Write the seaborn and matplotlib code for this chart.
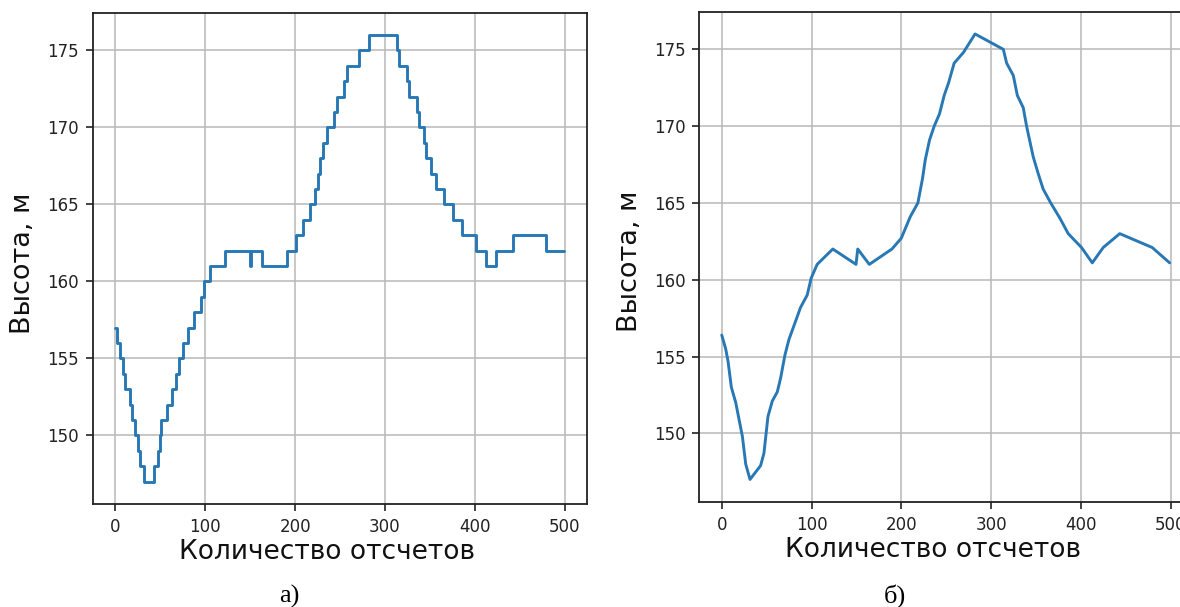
import numpy as np
import pandas as pd
import matplotlib
matplotlib.use("Agg")
import matplotlib.pyplot as plt
import seaborn as sns

# ---- data: panel a) (quantised, step-like profile) ----
steps_x = [0, 2, 5.5, 8, 11, 16, 18.5, 22, 25, 27.7,
           31.4, 42.5, 47.3, 49.2, 51, 57.3, 63, 67.7, 70.3, 75,
           80.6, 87, 95.4, 99, 105, 122, 149.5, 151, 163, 190.5,
           201.5, 209, 216.3, 222, 225.6, 227.4, 231, 236, 243.3, 247,
           254.4, 258, 271, 282, 313.6, 316.2, 324.7, 327.3, 335.8, 338.4,
           343.2, 345.8, 351.3, 356.9, 366.1, 375.3, 385.7, 401.2, 412, 423.5,
           442.6, 479.6, 499]
steps_h = [157, 156, 155, 154, 153, 152, 151, 150, 149, 148,
           147, 148, 149, 150, 151, 152, 153, 154, 155, 156,
           157, 158, 159, 160, 161, 162, 161, 162, 161, 162,
           163, 164, 165, 166, 167, 168, 169, 170, 171, 172,
           173, 174, 175, 176, 175, 174, 173, 172, 171, 170,
           169, 168, 167, 166, 165, 164, 163, 162, 161, 162,
           163, 162, 162]

# ---- data: panel б) (smoothed profile) ----
smooth_x = [0, 4.4, 7, 10.7, 15.6, 19.3, 23, 26.7, 31.5, 43.3,
            47, 51.5, 56.3, 61.9, 65.6, 70.4, 74.8, 80.4, 87.8, 95.2,
            99.6, 106.3, 123.7, 149.6, 151.5, 164.4, 189.6, 200, 210, 218.5,
            223.7, 226.7, 231.5, 236.7, 242.6, 247.8, 252.6, 258.9, 269.3, 282.2,
            313.7, 317.4, 324.8, 329.3, 335.9, 339.6, 347, 352.6, 358.1, 366.5,
            376.8, 386, 400.8, 412.8, 425, 443.4, 479.5, 499]
smooth_h = [156.4, 155.5, 154.7, 153.0, 152.0, 150.9, 149.8, 148.0, 147.0, 147.9,
            148.7, 151.1, 152.1, 152.7, 153.6, 155.1, 156.1, 157.0, 158.2, 159.0,
            160.1, 161.0, 162.0, 161.0, 162.0, 161.0, 162.0, 162.7, 164.1, 165.0,
            166.6, 167.8, 169.1, 170.0, 170.8, 172.0, 172.8, 174.1, 174.8, 176.0,
            175.0, 174.1, 173.3, 172.0, 171.2, 170.0, 168.0, 166.9, 165.9, 165.0,
            164.0, 163.0, 162.1, 161.1, 162.1, 163.0, 162.1, 161.1]

x_ticks = [0, 100, 200, 300, 400, 500]
y_ticks = [150, 155, 160, 165, 170, 175]
x_label = "Количество отсчетов"
y_label = "Высота, м"
panel_labels = ["а)", "б)"]

sns.set_theme(style="ticks")
plt.rcParams["font.family"] = ["DejaVu Sans"]
plt.rcParams["axes.edgecolor"] = "black"
plt.rcParams["xtick.color"] = "black"
plt.rcParams["ytick.color"] = "black"
plt.rcParams["text.color"] = "#222222"

line_color = "#2878b5"

fig = plt.figure(figsize=(11.8, 6.07), dpi=100)
ax1 = fig.add_axes([93 / 1180, 103 / 607, 494 / 1180, 491.3 / 607])
ax2 = fig.add_axes([699.3 / 1180, 105.3 / 607, 493.7 / 1180, 490 / 607])

df1 = pd.DataFrame({"x": steps_x, "h": steps_h})
df2 = pd.DataFrame({"x": smooth_x, "h": smooth_h})

sns.lineplot(data=df1, x="x", y="h", ax=ax1, color=line_color,
             linewidth=2.1, drawstyle="steps-post", estimator=None)
sns.lineplot(data=df2, x="x", y="h", ax=ax2, color=line_color,
             linewidth=2.1, estimator=None)

for ax, lab in zip([ax1, ax2], panel_labels):
    ax.set_xlim(-25, 525)
    ax.set_ylim(145.55, 177.45)
    ax.set_xticks(x_ticks)
    ax.set_yticks(y_ticks)
    ax.grid(True, color="#b8b8b8", linewidth=1.1)
    ax.set_axisbelow(True)
    for s in ax.spines.values():
        s.set_visible(True)
        s.set_linewidth(1.3)
        s.set_color("#222222")
    ax.tick_params(axis="both", labelsize=12, length=5, width=1.2,
                   colors="#222222", pad=5)
    ax.set_xlabel(x_label, fontsize=19, color="#111111")
    ax.set_ylabel(y_label, fontsize=19.5, color="#111111")
    ax.xaxis.label.set_verticalalignment("center")
    ax.yaxis.label.set_verticalalignment("center")

ax1.xaxis.set_label_coords(0.473, -0.0977)
ax2.xaxis.set_label_coords(0.4724, -0.0977)
ax1.yaxis.set_label_coords(-0.142, 0.49)
ax2.yaxis.set_label_coords(-0.140, 0.49)

fig.text(289 / 1180, 4 / 607, panel_labels[0], ha="center", va="baseline",
         fontsize=19, family=["Liberation Serif"], color="black")
fig.text(894.5 / 1180, 4 / 607, panel_labels[1], ha="center", va="baseline",
         fontsize=19, family=["Liberation Serif"], color="black")

fig.savefig("out.png", dpi=100)
